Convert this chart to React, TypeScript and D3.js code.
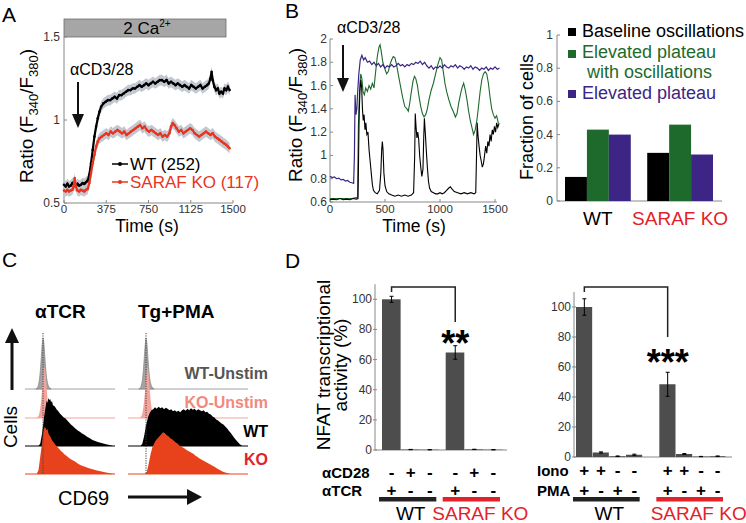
import React from 'react';
import * as d3 from 'd3';

const FONT = '"Liberation Sans", Arial, Helvetica, sans-serif';
const RED = '#e3212b';
const CURVE_RED = '#e8341f';
const HIST_RED = '#e8421d';
const PINK = '#f3a49c';
const GREEN = '#1d6a2c';
const PURPLE = '#3d2585';
const BAR_GRAY = '#4d4d4d';
const AXIS = '#888';

// ---- Panel A: mean ratio traces (time s, ratio) ----
const aTicksX = [0, 375, 750, 1125, 1500];
const aTicksY = [0.5, 1, 1.5];
const wtMean: [number, number][] = [
  [0, 0.61], [15, 0.6], [30, 0.615], [45, 0.6], [60, 0.605], [75, 0.62], [90, 0.61], [105, 0.6],
  [120, 0.615], [135, 0.605], [150, 0.61], [165, 0.62], [180, 0.615], [195, 0.625], [210, 0.635],
  [225, 0.67], [240, 0.74], [255, 0.82], [270, 0.9], [285, 0.96], [300, 1.01], [315, 1.05],
  [330, 1.08], [350, 1.1], [370, 1.11], [390, 1.12], [410, 1.12], [430, 1.13], [450, 1.14],
  [470, 1.13], [490, 1.15], [510, 1.15], [530, 1.16], [550, 1.17], [570, 1.18], [590, 1.18],
  [610, 1.19], [630, 1.19], [650, 1.2], [670, 1.21], [690, 1.2], [710, 1.21], [730, 1.22],
  [750, 1.21], [770, 1.22], [790, 1.23], [810, 1.22], [830, 1.23], [850, 1.24], [870, 1.24],
  [890, 1.23], [910, 1.24], [930, 1.22], [950, 1.23], [970, 1.22], [990, 1.21], [1010, 1.22],
  [1030, 1.21], [1050, 1.2], [1070, 1.21], [1090, 1.2], [1110, 1.19], [1130, 1.21], [1150, 1.2],
  [1170, 1.19], [1190, 1.2], [1210, 1.21], [1230, 1.19], [1250, 1.2], [1270, 1.21], [1285, 1.22],
  [1300, 1.25], [1310, 1.29], [1320, 1.24], [1335, 1.2], [1350, 1.18], [1365, 1.19], [1380, 1.16],
  [1395, 1.17], [1410, 1.16], [1425, 1.19], [1440, 1.18], [1455, 1.2], [1470, 1.18],
];
const koMean: [number, number][] = [
  [0, 0.575], [15, 0.57], [30, 0.58], [45, 0.57], [60, 0.575], [75, 0.58], [85, 0.6], [95, 0.65],
  [105, 0.6], [120, 0.575], [135, 0.57], [150, 0.58], [165, 0.575], [180, 0.57], [195, 0.58],
  [210, 0.585], [225, 0.62], [240, 0.68], [255, 0.74], [270, 0.79], [285, 0.84], [300, 0.87],
  [315, 0.89], [335, 0.9], [355, 0.91], [375, 0.92], [395, 0.91], [415, 0.93], [435, 0.92],
  [455, 0.93], [475, 0.94], [495, 0.93], [515, 0.92], [535, 0.93], [555, 0.91], [575, 0.92],
  [595, 0.93], [615, 0.94], [635, 0.95], [655, 0.96], [675, 0.97], [695, 0.95], [715, 0.96],
  [735, 0.94], [755, 0.93], [775, 0.94], [795, 0.93], [815, 0.92], [835, 0.91], [855, 0.92],
  [875, 0.9], [895, 0.91], [915, 0.9], [935, 0.92], [950, 0.96], [965, 0.98], [980, 0.97],
  [1000, 0.95], [1020, 0.93], [1040, 0.94], [1060, 0.92], [1080, 0.93], [1100, 0.94], [1120, 0.95],
  [1140, 0.94], [1160, 0.92], [1180, 0.91], [1200, 0.9], [1220, 0.91], [1240, 0.92], [1260, 0.93],
  [1280, 0.92], [1300, 0.91], [1320, 0.92], [1340, 0.9], [1360, 0.89], [1380, 0.88], [1400, 0.87],
  [1420, 0.86], [1440, 0.85], [1455, 0.84], [1470, 0.83],
];
const SEM = 0.032;

// ---- Panel B: single cell traces ----
const bTicksX = [0, 500, 1000, 1500];
const bTicksY = [0.6, 0.8, 1, 1.2, 1.4, 1.6, 1.8, 2];
const traceBlack: [number, number][] = [
  [0, 0.62], [30, 0.625], [60, 0.62], [90, 0.63], [120, 0.62], [150, 0.625], [180, 0.62], [210, 0.63],
  [240, 0.625], [255, 0.63], [260, 1.0], [265, 1.35], [272, 1.55], [280, 1.65], [288, 1.58],
  [295, 1.4], [302, 1.3], [310, 1.35], [318, 1.22], [326, 1.28], [335, 1.18], [345, 1.2], [355, 1.05],
  [365, 0.95], [375, 0.85], [385, 0.75], [395, 0.7], [410, 0.68], [430, 0.67], [450, 0.7], [462, 0.85],
  [470, 1.05], [476, 1.12], [482, 1.05], [490, 0.85], [500, 0.74], [515, 0.69], [535, 0.67],
  [560, 0.66], [590, 0.65], [620, 0.66], [650, 0.65], [680, 0.66], [710, 0.65], [740, 0.66],
  [760, 0.68], [770, 1.0], [775, 1.36], [782, 1.25], [790, 1.15], [798, 1.2], [806, 1.14], [815, 1.0],
  [825, 0.9], [835, 0.82], [845, 0.88], [852, 1.15], [858, 1.32], [866, 1.2], [875, 1.05], [885, 0.9],
  [895, 0.78], [905, 0.72], [920, 0.69], [940, 0.68], [960, 0.67], [980, 0.67], [1000, 0.68],
  [1020, 0.67], [1040, 0.68], [1060, 0.7], [1080, 0.72], [1095, 0.73], [1110, 0.71], [1130, 0.69],
  [1160, 0.68], [1190, 0.67], [1220, 0.68], [1250, 0.67], [1280, 0.68], [1310, 0.67], [1325, 0.68],
  [1332, 1.0], [1338, 1.28], [1345, 1.18], [1355, 1.08], [1365, 1.0], [1375, 0.95], [1385, 0.9],
  [1395, 0.93], [1405, 1.0], [1415, 1.08], [1425, 1.02], [1435, 1.12], [1445, 1.08], [1455, 1.18],
  [1465, 1.12], [1475, 1.22], [1485, 1.18], [1495, 1.25], [1505, 1.2], [1515, 1.28], [1525, 1.24],
  [1535, 1.27],
];
const traceGreen: [number, number][] = [
  [0, 0.63], [100, 0.63], [200, 0.63], [250, 0.64], [258, 1.25], [265, 1.45], [272, 1.62], [280, 1.7],
  [290, 1.66], [300, 1.55], [312, 1.52], [325, 1.58], [340, 1.55], [355, 1.6], [370, 1.57], [385, 1.62],
  [400, 1.58], [415, 1.72], [430, 1.85], [445, 1.93], [455, 1.95], [465, 1.9], [480, 1.8], [500, 1.74],
  [515, 1.7], [530, 1.72], [545, 1.78], [560, 1.82], [575, 1.85], [590, 1.84], [605, 1.78], [620, 1.7],
  [640, 1.6], [660, 1.5], [680, 1.42], [700, 1.4], [712, 1.38], [725, 1.45], [740, 1.55], [755, 1.64],
  [768, 1.68], [780, 1.66], [795, 1.6], [810, 1.5], [825, 1.42], [840, 1.36], [855, 1.33], [870, 1.35],
  [885, 1.4], [900, 1.48], [920, 1.56], [940, 1.62], [960, 1.7], [980, 1.78], [1000, 1.84],
  [1015, 1.82], [1030, 1.72], [1045, 1.62], [1060, 1.55], [1080, 1.48], [1100, 1.42], [1120, 1.38],
  [1140, 1.33], [1155, 1.36], [1170, 1.45], [1185, 1.52], [1200, 1.58], [1215, 1.62], [1230, 1.56],
  [1245, 1.48], [1260, 1.38], [1275, 1.3], [1290, 1.24], [1305, 1.18], [1320, 1.22], [1335, 1.3],
  [1350, 1.42], [1365, 1.55], [1380, 1.65], [1395, 1.7], [1410, 1.72], [1425, 1.7], [1440, 1.62],
  [1455, 1.5], [1470, 1.4], [1485, 1.35], [1500, 1.32], [1515, 1.34], [1530, 1.28], [1540, 1.27],
];
const tracePurple: [number, number][] = [
  [0, 0.82], [20, 0.81], [40, 0.815], [60, 0.8], [80, 0.805], [100, 0.79], [120, 0.795], [140, 0.78],
  [160, 0.785], [180, 0.77], [200, 0.765], [215, 0.76], [222, 1.0], [228, 1.52], [236, 1.35],
  [244, 1.4], [252, 1.55], [262, 1.7], [275, 1.82], [290, 1.86], [305, 1.82], [320, 1.84], [340, 1.8],
  [360, 1.81], [380, 1.78], [400, 1.8], [420, 1.77], [440, 1.79], [460, 1.76], [480, 1.78], [500, 1.75],
  [520, 1.77], [540, 1.76], [560, 1.78], [580, 1.76], [600, 1.77], [620, 1.79], [640, 1.77],
  [660, 1.78], [680, 1.76], [700, 1.78], [720, 1.77], [740, 1.79], [760, 1.78], [780, 1.8], [800, 1.79],
  [820, 1.81], [840, 1.78], [860, 1.8], [880, 1.77], [900, 1.75], [920, 1.77], [940, 1.74], [960, 1.76],
  [980, 1.75], [1000, 1.77], [1020, 1.75], [1040, 1.78], [1060, 1.76], [1080, 1.75], [1100, 1.77],
  [1120, 1.76], [1140, 1.78], [1160, 1.75], [1180, 1.77], [1200, 1.76], [1220, 1.74], [1240, 1.76],
  [1260, 1.75], [1280, 1.77], [1300, 1.74], [1320, 1.76], [1340, 1.75], [1360, 1.73], [1380, 1.75],
  [1400, 1.74], [1420, 1.76], [1440, 1.73], [1460, 1.75], [1480, 1.74], [1500, 1.76], [1520, 1.74],
  [1540, 1.75],
];

// ---- Panel B: fraction of cells ----
const fracGroups = ['WT', 'SARAF KO'];
const fracTypes = ['Baseline oscillations', 'Elevated plateau with oscillations', 'Elevated plateau'];
const fracColors = ['#000000', GREEN, PURPLE];
const fracWT = [0.145, 0.43, 0.4];
const fracKO = [0.29, 0.46, 0.28];
const fracTicks = [0, 0.2, 0.4, 0.6, 0.8, 1];

// ---- Panel C: CD69 histograms (channel, normalised count) ----
const histUnstimWT: [number, number][] = [
  [12, 0], [14, 0.03], [15, 0.08], [16, 0.18], [17, 0.35], [18, 0.6], [19, 0.85], [20, 1.0], [21, 0.9],
  [22, 0.65], [23, 0.4], [24, 0.22], [25, 0.12], [26, 0.06], [27, 0.03], [29, 0],
];
const histUnstimKO: [number, number][] = [
  [13, 0], [15, 0.04], [16, 0.1], [17, 0.2], [18, 0.35], [19, 0.55], [20, 0.78], [21, 0.95], [22, 1.0],
  [23, 0.85], [24, 0.6], [25, 0.38], [26, 0.22], [27, 0.12], [28, 0.06], [30, 0.02], [32, 0],
];
const histTcrWT: [number, number][] = [
  [15, 0], [17, 0.05], [19, 0.25], [21, 0.55], [23, 0.78], [24, 0.88], [25, 0.85], [26, 0.94], [27, 0.9],
  [28, 0.92], [29, 0.86], [30, 0.88], [31, 0.8], [33, 0.78], [35, 0.72], [37, 0.68], [39, 0.63], [41, 0.6],
  [43, 0.56], [45, 0.54], [47, 0.5], [49, 0.46], [51, 0.42], [53, 0.39], [55, 0.36], [57, 0.33], [59, 0.3],
  [61, 0.28], [63, 0.25], [66, 0.22], [69, 0.18], [72, 0.15], [75, 0.12], [78, 0.1], [81, 0.08],
  [84, 0.065], [87, 0.05], [90, 0.035], [94, 0.02], [98, 0],
];
const histTcrKO: [number, number][] = [
  [13, 0], [15, 0.08], [17, 0.35], [19, 0.62], [20, 0.78], [21, 0.88], [22, 0.92], [23, 0.9], [24, 0.86],
  [25, 0.88], [26, 0.8], [27, 0.76], [28, 0.74], [29, 0.7], [30, 0.66], [32, 0.62], [34, 0.57], [36, 0.53],
  [38, 0.49], [40, 0.45], [42, 0.42], [44, 0.38], [46, 0.36], [48, 0.33], [50, 0.3], [53, 0.27], [56, 0.24],
  [59, 0.2], [62, 0.17], [65, 0.15], [68, 0.13], [72, 0.11], [76, 0.09], [80, 0.07], [85, 0.05], [90, 0.03],
  [95, 0.015], [99, 0],
];
const histPmaWT: [number, number][] = [
  [14, 0], [16, 0.05], [18, 0.2], [20, 0.4], [22, 0.55], [24, 0.64], [26, 0.7], [28, 0.72], [30, 0.76],
  [32, 0.73], [34, 0.77], [36, 0.74], [38, 0.76], [40, 0.72], [42, 0.75], [44, 0.73], [46, 0.7], [48, 0.72],
  [50, 0.68], [52, 0.7], [54, 0.67], [56, 0.69], [58, 0.66], [60, 0.7], [62, 0.72], [64, 0.69], [66, 0.73],
  [68, 0.7], [70, 0.74], [72, 0.71], [74, 0.73], [76, 0.69], [78, 0.72], [80, 0.7], [82, 0.68], [84, 0.7],
  [86, 0.66], [88, 0.67], [90, 0.63], [92, 0.62], [94, 0.58], [96, 0.56], [98, 0.52], [100, 0.5],
  [102, 0.47], [104, 0.44], [106, 0.42], [108, 0.38], [110, 0.35], [112, 0.3], [114, 0.26], [116, 0.21],
  [118, 0.16], [120, 0.12], [122, 0.08], [124, 0.04], [127, 0],
];
const histPmaKO: [number, number][] = [
  [19, 0], [21, 0.05], [23, 0.2], [25, 0.38], [27, 0.52], [29, 0.6], [31, 0.66], [33, 0.7], [35, 0.74],
  [37, 0.78], [39, 0.82], [41, 0.8], [43, 0.76], [45, 0.74], [47, 0.7], [49, 0.68], [51, 0.65], [53, 0.62],
  [55, 0.6], [57, 0.56], [59, 0.54], [61, 0.52], [63, 0.5], [65, 0.47], [67, 0.45], [69, 0.43], [71, 0.41],
  [73, 0.39], [75, 0.36], [77, 0.34], [79, 0.31], [81, 0.29], [83, 0.27], [85, 0.25], [87, 0.23],
  [89, 0.21], [91, 0.19], [93, 0.17], [95, 0.15], [97, 0.13], [99, 0.11], [101, 0.09], [103, 0.07],
  [105, 0.05], [107, 0.035], [110, 0.02], [114, 0],
];
const histRowLabels = ['WT-Unstim', 'KO-Unstim', 'WT', 'KO'];
const histRowColors = ['#a3a3a3', PINK, '#000000', HIST_RED];
const histRowText = ['#555555', '#f08a80', '#000000', RED];

// ---- Panel D: NFAT activity (%) ----
const nfatGroups = ['WT', 'SARAF KO'];
const tcrWT = [100, 0.3, 0.2];
const tcrWTErr = [2, 0.1, 0.1];
const tcrKO = [64.7, 0.4, 0.2];
const tcrKOErr = [4.5, 0.1, 0.1];
const rowCD28 = ['-', '+', '-'];
const rowTCR = ['+', '-', '-'];
const ionoWT = [100, 3, 0.5, 1.5];
const ionoWTErr = [5.5, 0.4, 0.2, 0.4];
const ionoKO = [48.5, 2, 0.3, 0.5];
const ionoKOErr = [8, 0.3, 0.1, 0.2];
const rowIono = ['+', '+', '-', '-'];
const rowPMA = ['+', '-', '+', '-'];
const nfatTicks = [0, 20, 40, 60, 80, 100];

function RatioLabel({ x, y }: { x: number; y: number }) {
  return (
    <text transform={`translate(${x},${y}) rotate(-90)`} textAnchor="middle" fontSize={19}>
      <tspan>Ratio (F</tspan>
      <tspan fontSize={13} dy={5}>340</tspan>
      <tspan dy={-5}>/F</tspan>
      <tspan fontSize={13} dy={5}>380</tspan>
      <tspan dy={-5}>)</tspan>
    </text>
  );
}

function DownArrow({ x, y0, y1 }: { x: number; y0: number; y1: number }) {
  return (
    <g>
      <line x1={x} x2={x} y1={y0} y2={y1 - 12} stroke="#111" strokeWidth={2} />
      <path d={`M${x - 6},${y1 - 14}L${x + 6},${y1 - 14}L${x},${y1}Z`} fill="#111" />
    </g>
  );
}

function PanelA() {
  const x = d3.scaleLinear().domain([0, 1500]).range([64, 233]);
  const y = d3.scaleLinear().domain([0.5, 1.5]).range([203, 37]);
  const line = d3.line<[number, number]>().x((d) => x(d[0])).y((d) => y(d[1]));
  const band = d3
    .area<[number, number]>()
    .x((d) => x(d[0]))
    .y0((d) => y(d[1] - SEM))
    .y1((d) => y(d[1] + SEM));
  return (
    <g>
      <text x={2} y={22} fontSize={21}>A</text>
      <rect x={64} y={19} width={162} height={18} fill="#a6a6a6" stroke="#6e6e6e" strokeWidth={0.8} />
      <text x={147} y={34} fontSize={17} textAnchor="middle">
        2 Ca<tspan fontSize={10} dy={-7}>2+</tspan>
      </text>
      <line x1={64} x2={64} y1={37} y2={203} stroke={AXIS} />
      <line x1={64} x2={233} y1={203} y2={203} stroke={AXIS} />
      {aTicksY.map((t) => (
        <g key={t}>
          <line x1={64} x2={67} y1={y(t)} y2={y(t)} stroke={AXIS} />
          <text x={60} y={y(t) + 4} fontSize={12} textAnchor="end" fill="#333">{t}</text>
        </g>
      ))}
      {aTicksX.map((t) => (
        <g key={t}>
          <line x1={x(t)} x2={x(t)} y1={203} y2={200} stroke={AXIS} />
          <text x={x(t)} y={213} fontSize={11.5} textAnchor="middle" fill="#333">{t}</text>
        </g>
      ))}
      <path d={band(wtMean) || ''} fill="#c3c7cf" />
      <path d={band(koMean) || ''} fill="#c3c7cf" />
      <path d={line(wtMean) || ''} fill="none" stroke="#000" strokeWidth={2.2} />
      {wtMean.map((d, i) => <circle key={i} cx={x(d[0])} cy={y(d[1])} r={1.3} fill="#000" />)}
      <path d={line(koMean) || ''} fill="none" stroke={CURVE_RED} strokeWidth={2.2} />
      {koMean.map((d, i) => <circle key={i} cx={x(d[0])} cy={y(d[1])} r={1.3} fill={CURVE_RED} />)}
      <text x={70} y={75} fontSize={16}>αCD3/28</text>
      <DownArrow x={78} y0={82} y1={128} />
      <line x1={112} x2={128} y1={164} y2={164} stroke="#000" strokeWidth={1.5} />
      <circle cx={120} cy={164} r={2} fill="#000" />
      <text x={130} y={170} fontSize={17}>WT (252)</text>
      <line x1={112} x2={128} y1={182} y2={182} stroke={CURVE_RED} strokeWidth={1.5} />
      <circle cx={120} cy={182} r={2} fill={CURVE_RED} />
      <text x={130} y={188} fontSize={17} fill={CURVE_RED}>SARAF KO (117)</text>
      <RatioLabel x={33} y={116} />
      <text x={147} y={232} fontSize={17.5} textAnchor="middle">Time (s)</text>
    </g>
  );
}

function PanelBTraces() {
  const x = d3.scaleLinear().domain([0, 1500]).range([330, 495]);
  const y = d3.scaleLinear().domain([0.6, 2]).range([202, 39]);
  const line = d3.line<[number, number]>().x((d) => x(d[0])).y((d) => y(d[1]));
  return (
    <g>
      <text x={285} y={18} fontSize={21}>B</text>
      <line x1={330} x2={330} y1={39} y2={202} stroke={AXIS} />
      <line x1={330} x2={497} y1={202} y2={202} stroke={AXIS} />
      {bTicksY.map((t) => (
        <g key={t}>
          <line x1={330} x2={333} y1={y(t)} y2={y(t)} stroke={AXIS} />
          <text x={327} y={y(t) + 4} fontSize={12} textAnchor="end" fill="#333">{t}</text>
        </g>
      ))}
      {bTicksX.map((t) => (
        <g key={t}>
          <line x1={x(t)} x2={x(t)} y1={202} y2={199} stroke={AXIS} />
          <text x={x(t)} y={213} fontSize={11.5} textAnchor="middle" fill="#333">{t}</text>
        </g>
      ))}
      <path d={line(traceGreen) || ''} fill="none" stroke={GREEN} strokeWidth={1.1} />
      <path d={line(traceBlack) || ''} fill="none" stroke="#000" strokeWidth={1.1} />
      <path d={line(tracePurple) || ''} fill="none" stroke={PURPLE} strokeWidth={1.2} />
      <text x={337} y={33} fontSize={16}>αCD3/28</text>
      <DownArrow x={343} y0={45} y1={92} />
      <RatioLabel x={302} y={115} />
      <text x={414} y={232} fontSize={17.5} textAnchor="middle">Time (s)</text>
    </g>
  );
}

function PanelBBars() {
  const outer = d3.scaleBand().domain(fracGroups).range([565, 713]).paddingInner(0.2);
  const inner = d3.scaleBand().domain(fracTypes).range([0, outer.bandwidth()]);
  const y = d3.scaleLinear().domain([0, 1]).range([201, 35]);
  const values = [fracWT, fracKO];
  return (
    <g>
      <line x1={557} x2={557} y1={35} y2={201} stroke={AXIS} />
      <line x1={557} x2={722} y1={201} y2={201} stroke={AXIS} />
      {fracTicks.map((t) => (
        <g key={t}>
          <line x1={557} x2={560} y1={y(t)} y2={y(t)} stroke={AXIS} />
          <text x={553} y={y(t) + 4} fontSize={12} textAnchor="end" fill="#333">{t}</text>
        </g>
      ))}
      {fracGroups.map((g, gi) =>
        fracTypes.map((k, ki) => (
          <rect
            key={g + k}
            x={(outer(g) || 0) + (inner(k) || 0)}
            y={y(values[gi][ki])}
            width={inner.bandwidth()}
            height={201 - y(values[gi][ki])}
            fill={fracColors[ki]}
          />
        )),
      )}
      {fracGroups.map((g, gi) => (
        <text
          key={g}
          x={(outer(g) || 0) + outer.bandwidth() / 2}
          y={225}
          fontSize={19}
          textAnchor="middle"
          fill={gi === 0 ? '#000' : RED}
        >
          {g}
        </text>
      ))}
      <rect x={568} y={28} width={8} height={8} fill={fracColors[0]} />
      <text x={582} y={37} fontSize={18}>Baseline oscillations</text>
      <rect x={568} y={50} width={8} height={8} fill={fracColors[1]} />
      <text x={582} y={58} fontSize={18} fill={GREEN}>Elevated plateau</text>
      <text x={587} y={78} fontSize={18} fill={GREEN}>with oscillations</text>
      <rect x={568} y={90} width={8} height={8} fill={fracColors[2]} />
      <text x={582} y={99} fontSize={18} fill={PURPLE}>Elevated plateau</text>
      <text transform="translate(533,117) rotate(-90)" textAnchor="middle" fontSize={18}>
        Fraction of cells
      </text>
    </g>
  );
}

function PanelC() {
  const rowBase = [389, 418, 446, 474];
  const h = d3.scaleLinear().domain([0, 1]).range([0, 51]);
  const left = d3.scaleLinear().domain([0, 100]).range([25, 115]);
  const right = d3.scaleLinear().domain([0, 100]).range([128, 218]);
  const panels = [
    { sx: left, x0: 25, x1: 115, hists: [histUnstimWT, histUnstimKO, histTcrWT, histTcrKO] },
    { sx: right, x0: 128, x1: 248, hists: [histUnstimWT, histUnstimKO, histPmaWT, histPmaKO] },
  ];
  return (
    <g>
      <text x={2} y={267} fontSize={21}>C</text>
      <text x={35} y={318} fontSize={19} fontWeight="bold">αTCR</text>
      <text x={138} y={318} fontSize={19} fontWeight="bold">Tg+PMA</text>
      {panels.map((p, pi) => (
        <g key={pi}>
          {p.hists.map((hist, ri) => {
            const base = rowBase[ri];
            const area = d3
              .area<[number, number]>()
              .x((d) => p.sx(d[0]))
              .y0(base)
              .y1((d) => base - h(d[1]));
            return (
              <g key={ri}>
                <line x1={p.x0} x2={p.x1} y1={base} y2={base} stroke={histRowColors[ri]} strokeWidth={1} />
                <path
                  d={area(hist) || ''}
                  fill={histRowColors[ri]}
                  stroke={ri === 0 ? '#7a7a7a' : 'none'}
                  strokeWidth={0.6}
                />
              </g>
            );
          })}
          <line
            x1={p.sx(20)}
            x2={p.sx(20)}
            y1={333}
            y2={474}
            stroke="#444"
            strokeWidth={1}
            strokeDasharray="1.2,1.2"
          />
        </g>
      ))}
      {histRowLabels.map((l, i) => (
        <text
          key={l}
          x={268}
          y={[379, 408, 437, 465][i]}
          fontSize={16}
          fontWeight="bold"
          textAnchor="end"
          fill={histRowText[i]}
        >
          {l}
        </text>
      ))}
      <line x1={12} x2={12} y1={390} y2={340} stroke="#111" strokeWidth={3} />
      <path d="M5,343L19,343L12,328Z" fill="#111" />
      <text transform="translate(17,427) rotate(-90)" textAnchor="middle" fontSize={19}>Cells</text>
      <text x={58} y={505} fontSize={20}>CD69</text>
      <line x1={128} x2={189} y1={497} y2={497} stroke="#111" strokeWidth={3} />
      <path d="M187,489L187,505L202,497Z" fill="#111" />
    </g>
  );
}

type NfatProps = {
  axisX: number;
  axisEnd: number;
  y0: number;
  y100: number;
  range: [number, number];
  padding: number;
  wt: number[];
  wtErr: number[];
  ko: number[];
  koErr: number[];
  rows: { label: string; signs: string[]; y: number }[];
  labelX: number;
  stars: string;
  starY: number;
  bracketDrop: number;
};

function NfatChart(p: NfatProps) {
  const conds = p.wt.map((_, i) => String(i));
  const outer = d3.scaleBand().domain(nfatGroups).range(p.range).paddingInner(p.padding);
  const inner = d3.scaleBand().domain(conds).range([0, outer.bandwidth()]);
  const y = d3.scaleLinear().domain([0, 100]).range([p.y0, p.y100]);
  const top = y(110);
  const data = [
    { vals: p.wt, errs: p.wtErr },
    { vals: p.ko, errs: p.koErr },
  ];
  const cx = (g: string, i: number) => (outer(g) || 0) + (inner(String(i)) || 0) + inner.bandwidth() / 2;
  const leftX = cx('WT', 0);
  const rightX = cx('SARAF KO', 0);
  return (
    <g>
      <line x1={p.axisX} x2={p.axisX} y1={top} y2={p.y0} stroke={AXIS} />
      <line x1={p.axisX} x2={p.axisEnd} y1={p.y0} y2={p.y0} stroke={AXIS} />
      {nfatTicks.map((t) => (
        <g key={t}>
          <line x1={p.axisX - 2} x2={p.axisX + 2} y1={y(t)} y2={y(t)} stroke={AXIS} />
          <text x={p.axisX - 3} y={y(t) + 4} fontSize={12} textAnchor="end" fill="#333">{t}</text>
        </g>
      ))}
      {nfatGroups.map((g, gi) =>
        data[gi].vals.map((v, i) => {
          const bx = (outer(g) || 0) + (inner(String(i)) || 0);
          const e = data[gi].errs[i];
          return (
            <g key={g + i}>
              <rect x={bx} y={y(v)} width={inner.bandwidth() - 0.5} height={p.y0 - y(v)} fill={BAR_GRAY} />
              <line x1={cx(g, i)} x2={cx(g, i)} y1={y(v + e)} y2={y(v - e)} stroke="#000" strokeWidth={1} />
              <line x1={cx(g, i) - 2} x2={cx(g, i) + 2} y1={y(v + e)} y2={y(v + e)} stroke="#000" />
              <line x1={cx(g, i) - 2} x2={cx(g, i) + 2} y1={y(v - e)} y2={y(v - e)} stroke="#000" />
            </g>
          );
        }),
      )}
      <path
        d={`M${leftX},292V287H${rightX}V${287 + p.bracketDrop}`}
        fill="none"
        stroke="#222"
        strokeWidth={1.5}
      />
      <text x={rightX} y={p.starY} fontSize={36} fontWeight="bold" textAnchor="middle">{p.stars}</text>
      {p.rows.map((r) => (
        <g key={r.label}>
          <text x={p.labelX} y={r.y + 6} fontSize={15} fontWeight="bold">{r.label}</text>
          {nfatGroups.map((g) =>
            r.signs.map((s, i) => (
              <text key={g + i} x={cx(g, i)} y={r.y + 6} fontSize={17} fontWeight="bold" textAnchor="middle">{s}</text>
            )),
          )}
        </g>
      ))}
      {nfatGroups.map((g, gi) => (
        <g key={g}>
          <rect x={(outer(g) || 0) - 3} y={497} width={outer.bandwidth()} height={4.5} fill={gi === 0 ? '#222' : RED} />
          <text
            x={(outer(g) || 0) + outer.bandwidth() / 2 + (gi === 0 ? 0 : 6)}
            y={520}
            fontSize={19}
            textAnchor="middle"
            fill={gi === 0 ? '#000' : RED}
          >
            {g}
          </text>
        </g>
      ))}
    </g>
  );
}

function PanelD() {
  return (
    <g>
      <text x={285} y={268} fontSize={21}>D</text>
      <text transform="translate(330,365) rotate(-90)" textAnchor="middle" fontSize={19}>
        NFAT transcriptional
      </text>
      <text transform="translate(347,365) rotate(-90)" textAnchor="middle" fontSize={19}>
        activity (%)
      </text>
      <NfatChart
        axisX={375}
        axisEnd={507}
        y0={450}
        y100={299.3}
        range={[382, 503]}
        padding={0.1}
        wt={tcrWT}
        wtErr={tcrWTErr}
        ko={tcrKO}
        koErr={tcrKOErr}
        rows={[
          { label: 'αCD28', signs: rowCD28, y: 472 },
          { label: 'αTCR', signs: rowTCR, y: 490 },
        ]}
        labelX={322}
        stars="**"
        starY={356}
        bracketDrop={35}
      />
      <NfatChart
        axisX={574}
        axisEnd={732}
        y0={457}
        y100={307}
        range={[576, 726]}
        padding={0.2}
        wt={ionoWT}
        wtErr={ionoWTErr}
        ko={ionoKO}
        koErr={ionoKOErr}
        rows={[
          { label: 'Iono', signs: rowIono, y: 470 },
          { label: 'PMA', signs: rowPMA, y: 490 },
        ]}
        labelX={537}
        stars="***"
        starY={375}
        bracketDrop={50}
      />
    </g>
  );
}

export default function App() {
  return (
    <svg
      width={746}
      height={523}
      style={{ position: 'absolute', left: 0, top: 0, background: '#fff' }}
      fontFamily={FONT}
    >
      <PanelA />
      <PanelBTraces />
      <PanelBBars />
      <PanelC />
      <PanelD />
    </svg>
  );
}
